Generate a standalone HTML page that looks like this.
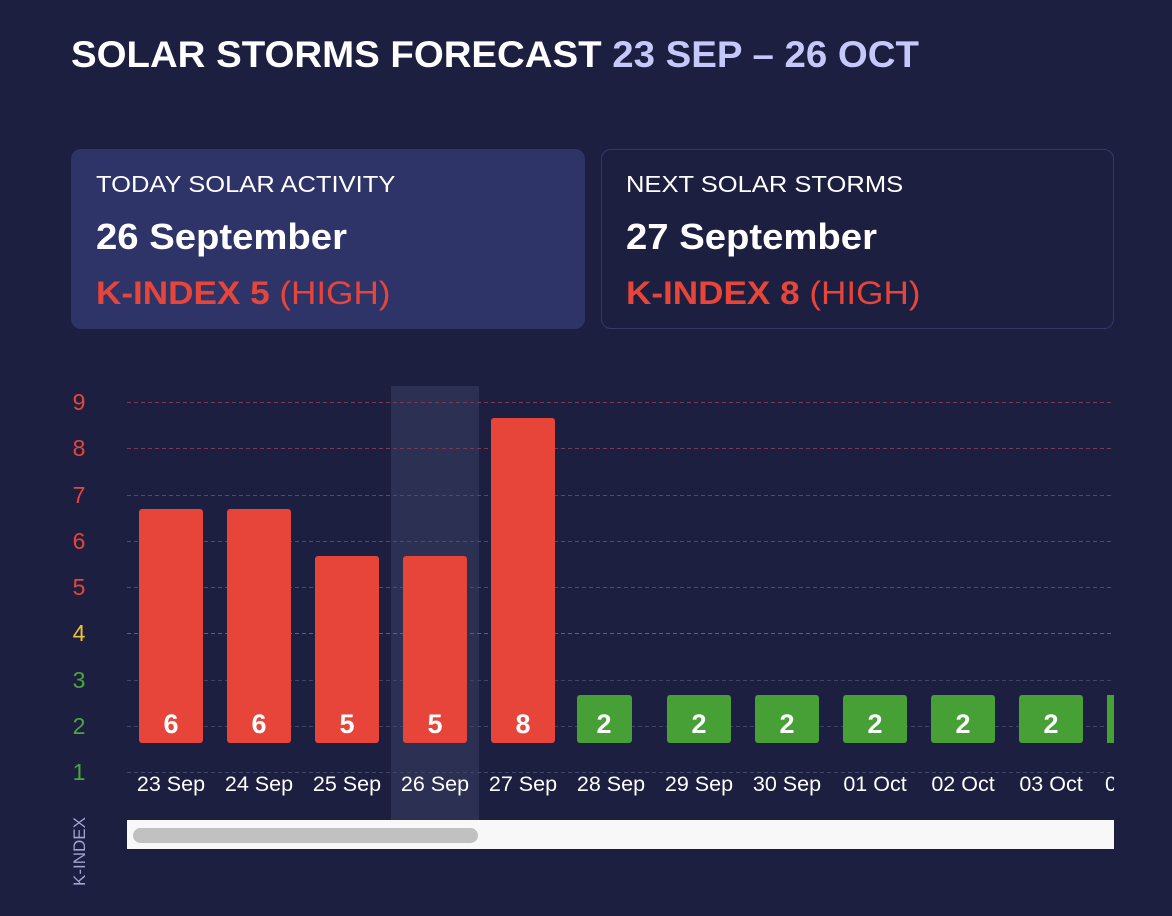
<!DOCTYPE html>
<html><head><meta charset="utf-8"><style>
body{margin:0;width:1172px;height:916px;background:#1d1f40;overflow:hidden;font-family:"Liberation Sans",Arial,sans-serif;position:relative}
.t{position:absolute;white-space:nowrap;transform-origin:0 50%}
.card{position:absolute;top:149px;height:180px;border-radius:10px;box-sizing:border-box}
</style></head><body>
<div class="t" style="left:71px;top:34px;font-size:37px;font-weight:bold;color:#fff;transform:scaleX(1.038)">SOLAR STORMS FORECAST <span style="color:#c5c8fb">23 SEP – 26 OCT</span></div>
<div class="card" style="left:71px;width:514px;background:#2e3368"></div>
<div class="card" style="left:601px;width:513px;border:1px solid #34386a"></div>
<div class="t" style="left:96px;top:171px;font-size:23px;color:#fff;transform:scaleX(1.11)">TODAY SOLAR ACTIVITY</div>
<div class="t" style="left:96px;top:216px;font-size:36px;font-weight:bold;color:#fff;transform:scaleX(1.063)">26 September</div>
<div class="t" style="left:96px;top:275px;font-size:32px;color:#e8453a;transform:scaleX(1.097)"><b>K-INDEX 5</b> (HIGH)</div>
<div class="t" style="left:626px;top:171px;font-size:23px;color:#fff;transform:scaleX(1.11)">NEXT SOLAR STORMS</div>
<div class="t" style="left:626px;top:216px;font-size:36px;font-weight:bold;color:#fff;transform:scaleX(1.063)">27 September</div>
<div class="t" style="left:626px;top:275px;font-size:32px;color:#e8453a;transform:scaleX(1.097)"><b>K-INDEX 8</b> (HIGH)</div>
<svg width="1172" height="916" style="position:absolute;left:0;top:0" font-family="Liberation Sans, Arial, sans-serif">
<rect x="391" y="386" width="88" height="434" fill="#2c3052"/>
<g stroke-dasharray="4,3" stroke-width="1">
<line x1="127" x2="1114" y1="402.5" y2="402.5" stroke="#7a3a52"/>
<line x1="127" x2="1114" y1="448.5" y2="448.5" stroke="#7a3a52"/>
<line x1="127" x2="1114" y1="495.5" y2="495.5" stroke="#7a3a52"/>
<line x1="127" x2="1114" y1="541.5" y2="541.5" stroke="#7a3a52"/>
<line x1="127" x2="1114" y1="587.5" y2="587.5" stroke="#7a3a52"/>
<line x1="127" x2="1114" y1="633.5" y2="633.5" stroke="#6e6440"/>
<line x1="127" x2="1114" y1="680.5" y2="680.5" stroke="#3e4566"/>
<line x1="127" x2="1114" y1="726.5" y2="726.5" stroke="#3e4566"/>
<line x1="127" x2="1114" y1="772.5" y2="772.5" stroke="#3e4566"/>
</g>
<g font-size="23" text-anchor="middle">
<text x="79" y="410" fill="#e8453a">9</text><text x="79" y="456" fill="#e8453a">8</text>
<text x="79" y="503" fill="#e8453a">7</text><text x="79" y="549" fill="#e8453a">6</text>
<text x="79" y="595" fill="#e8453a">5</text><text x="79" y="641" fill="#f0c23a">4</text>
<text x="79" y="688" fill="#49a83a">3</text><text x="79" y="734" fill="#49a83a">2</text>
<text x="79" y="780" fill="#49a83a">1</text>
</g>
<g fill="#e8453a">
<rect x="139" y="509" width="64" height="234" rx="3"/>
<rect x="227" y="509" width="64" height="234" rx="3"/>
<rect x="315" y="556" width="64" height="187" rx="3"/>
<rect x="403" y="556" width="64" height="187" rx="3"/>
<rect x="491" y="418" width="64" height="325" rx="3"/>
</g>
<g fill="#47a035">
<rect x="577" y="695" width="55" height="48" rx="3"/>
<rect x="667" y="695" width="64" height="48" rx="3"/>
<rect x="755" y="695" width="64" height="48" rx="3"/>
<rect x="843" y="695" width="64" height="48" rx="3"/>
<rect x="931" y="695" width="64" height="48" rx="3"/>
<rect x="1019" y="695" width="64" height="48" rx="3"/>
<rect x="1107" y="695" width="7" height="48"/>
</g>
<g font-size="27" font-weight="bold" fill="#fff" text-anchor="middle">
<text x="171" y="733">6</text><text x="259" y="733">6</text><text x="347" y="733">5</text>
<text x="435" y="733">5</text><text x="523" y="733">8</text><text x="604" y="733">2</text>
<text x="699" y="733">2</text><text x="787" y="733">2</text><text x="875" y="733">2</text>
<text x="963" y="733">2</text><text x="1051" y="733">2</text>
</g>
<g font-size="21.5" fill="#fff" text-anchor="middle">
<text x="171" y="791">23 Sep</text><text x="259" y="791">24 Sep</text><text x="347" y="791">25 Sep</text>
<text x="435" y="791">26 Sep</text><text x="523" y="791">27 Sep</text><text x="611" y="791">28 Sep</text>
<text x="699" y="791">29 Sep</text><text x="787" y="791">30 Sep</text><text x="875" y="791">01 Oct</text>
<text x="963" y="791">02 Oct</text><text x="1051" y="791">03 Oct</text>
</g>
<text x="1105" y="791" font-size="21.5" fill="#fff">0</text>
<rect x="1114" y="760" width="58" height="40" fill="#1d1f40"/>
<rect x="127" y="820" width="987" height="29" fill="#f8f8f8"/>
<rect x="133" y="828" width="345" height="15" rx="7.5" fill="#c1c1c1"/>
<text transform="translate(85,886) rotate(-90)" font-size="17" fill="#a0a4d0">K-INDEX</text>
</svg>
</body></html>
